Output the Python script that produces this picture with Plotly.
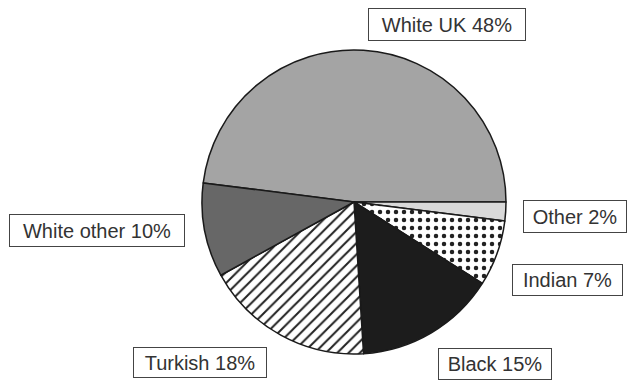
import plotly.graph_objects as go

# Data
categories = ["White UK", "Other", "Indian", "Black", "Turkish", "White other"]
shares = [48, 2, 7, 15, 18, 10]

# Styles (per slice)
fill_colors = ["#a4a4a4", "#d9d9d9", "#ffffff", "#1c1c1c", "#ffffff", "#676767"]
pattern_shapes = ["", "", ".", "", "/", ""]

W, H = 627, 381

fig = go.Figure(go.Pie(
    labels=categories,
    values=shares,
    sort=False,
    direction="clockwise",
    rotation=-82.8,
    textinfo="none",
    hoverinfo="label+percent",
    showlegend=False,
    marker=dict(
        colors=fill_colors,
        line=dict(color="#1a1a1a", width=1.5),
        pattern=dict(
            shape=pattern_shapes,
            fgcolor="#222222",
            bgcolor="#ffffff",
            size=8,
            solidity=0.25,
            fillmode="replace",
        ),
    ),
    domain=dict(x=[202 / W, 506 / W], y=[1 - 354 / H, 1 - 50 / H]),
))

# label box layout in pixels: centre x, centre y, box width, box height
label_boxes = {
    "White UK": (447, 24, 158, 33),
    "Other": (575, 216, 104, 33),
    "Indian": (567, 280, 111, 32),
    "Black": (495, 364, 114, 32),
    "Turkish": (200, 362, 134, 31),
    "White other": (97, 230, 176, 33),
}

annotations = []
for cat, val in zip(categories, shares):
    cx, cy, bw, bh = label_boxes[cat]
    annotations.append(dict(
        x=cx / W, y=1 - cy / H, xref="paper", yref="paper",
        xanchor="center", yanchor="middle",
        text=f"{cat} {val}%",
        showarrow=False,
        width=bw - 8, height=bh - 8, align="center", valign="middle",
        font=dict(family="Liberation Sans, Arial, sans-serif", size=20, color="#333333"),
        bordercolor="#444444", borderwidth=1, borderpad=3,
        bgcolor="#ffffff",
    ))

fig.update_layout(
    width=W, height=H,
    margin=dict(l=0, r=0, t=0, b=0),
    paper_bgcolor="#ffffff",
    plot_bgcolor="#ffffff",
    annotations=annotations,
)

fig.write_html(
    "out.html",
    config={"displayModeBar": False},
    post_script="document.body.style.margin='0';document.body.style.padding='0';",
)
